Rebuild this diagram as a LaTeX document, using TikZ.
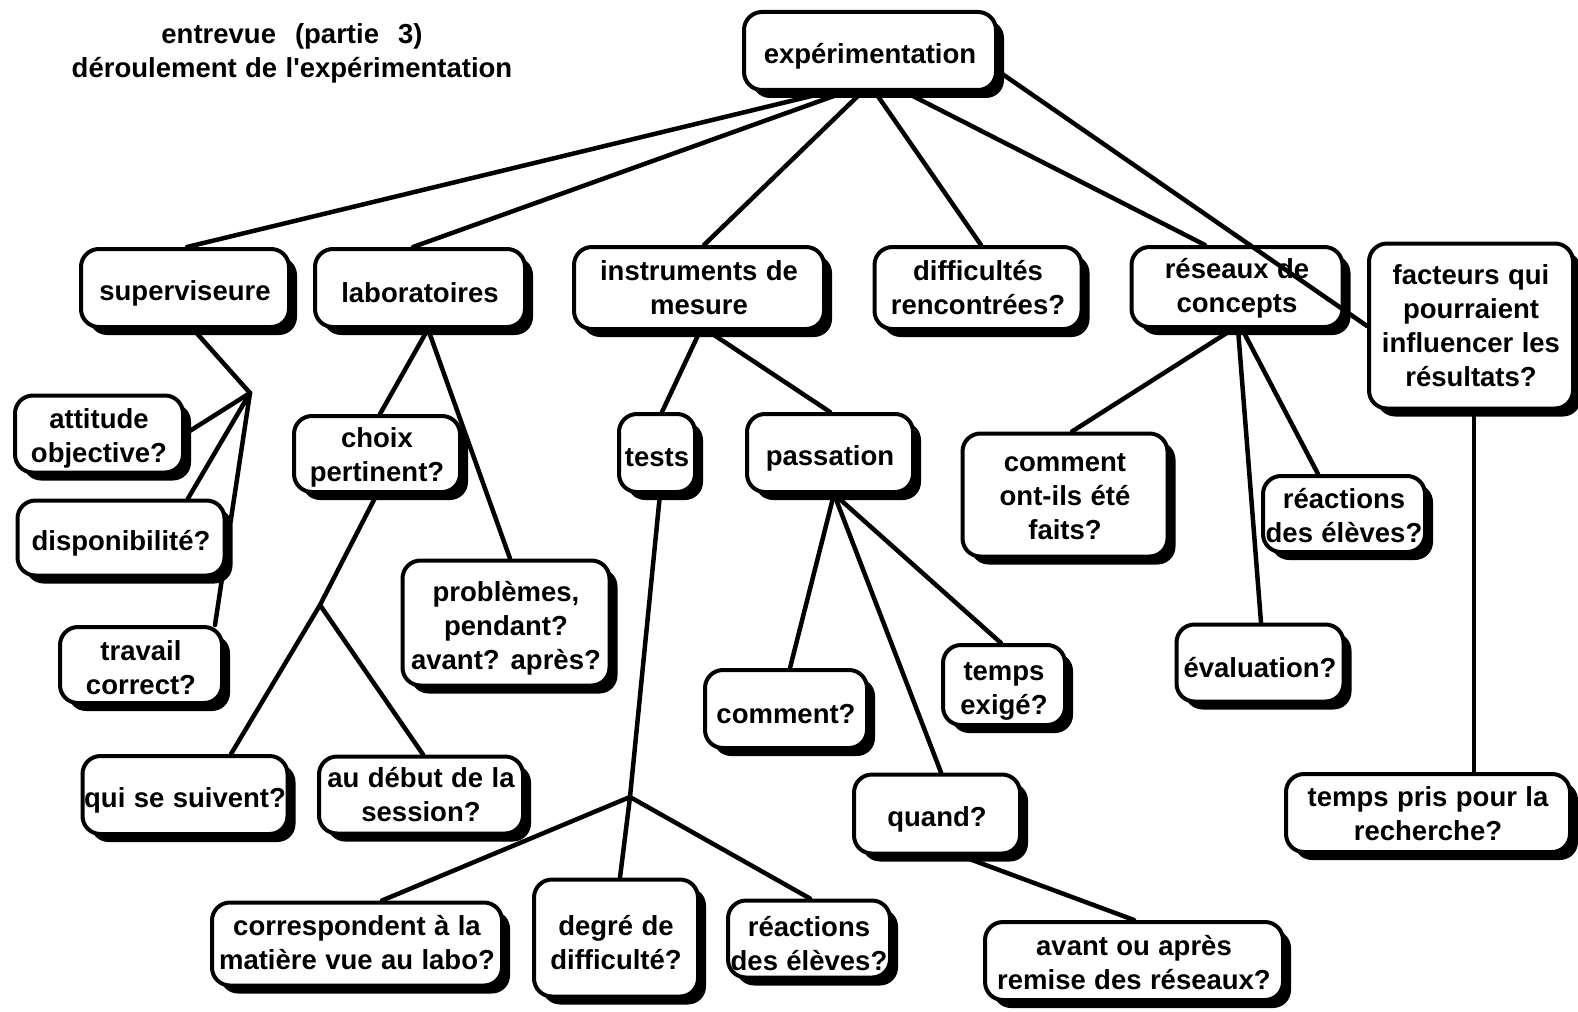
\documentclass[tikz,border=0pt]{standalone}
\usepackage{fontspec}
\setmainfont{Liberation Sans}[WordSpace=1.1]
\usetikzlibrary{shadows}
\pgfdeclarelayer{background}
\pgfsetlayers{background,main}

\begin{document}
\begin{tikzpicture}[x=1pt,y=-1pt,
  box/.style={draw=black, line width=4pt, rounded corners=18pt, fill=white,
    inner sep=0pt,
    drop shadow={shadow xshift=8pt, shadow yshift=-8pt, fill=black, opacity=1}},
  txt/.style={font=\fontsize{27.5}{34}\selectfont\bfseries, align=center,
    inner sep=0pt, yshift=-5pt},
  link/.style={line width=4.5pt, line cap=round},
  heading/.style={font=\fontsize{27.5}{34}\selectfont\bfseries, align=center}]

\useasboundingbox (0,0) rectangle (1578,1011);

% heading
\node[heading] (ttl) at (292,53)
  {entrevue\hspace{19pt}(partie\hspace{19pt}3)\\d\'eroulement de l\textquotesingle exp\'erimentation};

% root
\node[box, minimum width=252pt, minimum height=78pt,
  label={[txt]center:expérimentation}] (exp) at (870,51) {};

% first level
\node[box, minimum width=208pt, minimum height=78pt,
  label={[txt]center:superviseure}] (sup) at (185,288) {};
\node[box, minimum width=210pt, minimum height=78pt,
  label={[txt]center:laboratoires}] (lab) at (420,288) {};
\node[box, minimum width=250pt, minimum height=82pt,
  label={[txt,yshift=5pt]center:{instruments de\\mesure}}] (ins) at (699,288) {};
\node[box, minimum width=207pt, minimum height=82pt,
  label={[txt,yshift=5pt]center:{difficultés\\rencontrées?}}] (dif) at (978,288) {};
\node[box, minimum width=211pt, minimum height=80pt,
  label={[txt,yshift=4pt]center:{réseaux de\\concepts}}] (res) at (1237,287) {};
\node[box, minimum width=204pt, minimum height=165pt,
  label={[txt,yshift=5pt]center:{facteurs qui\\pourraient\\influencer les\\résultats?}}] (fac) at (1471,326) {};

% superviseure branch
\node[box, minimum width=168pt, minimum height=77pt,
  label={[txt,yshift=1pt]center:{attitude\\objective?}}] (att) at (99,434) {};
\node[box, minimum width=207pt, minimum height=75pt,
  label={[txt]center:disponibilité?}] (dis) at (121,538) {};
\node[box, minimum width=162pt, minimum height=76pt,
  label={[txt,yshift=2pt]center:{travail\\correct?}}] (tra) at (141,665) {};

% laboratoires branch
\node[box, minimum width=166pt, minimum height=76pt,
  label={[txt,yshift=2pt]center:{choix\\pertinent?}}] (cho) at (377,454) {};
\node[box, minimum width=207pt, minimum height=125pt,
  label={[txt]center:{problèmes,\\pendant?\\avant? après?}}] (pro) at (506,623) {};
\node[box, minimum width=205pt, minimum height=78pt,
  label={[txt]center:qui se suivent?}] (qui) at (185,795) {};
\node[box, minimum width=204pt, minimum height=77pt,
  label={[txt,yshift=5pt]center:{au début de la\\session?}}] (deb) at (421,795) {};

% instruments branch
\node[box, minimum width=76pt, minimum height=78pt,
  label={[txt]center:tests}] (tes) at (657,453) {};
\node[box, minimum width=166pt, minimum height=78pt,
  label={[txt]center:passation}] (pas) at (830,453) {};
\node[box, minimum width=162pt, minimum height=78pt,
  label={[txt]center:comment?}] (com) at (786,709) {};
\node[box, minimum width=122pt, minimum height=80pt,
  label={[txt,yshift=-1pt]center:{temps\\exigé?}}] (tex) at (1004,685) {};
\node[box, minimum width=166pt, minimum height=79pt,
  label={[txt]center:quand?}] (qua) at (937,814) {};
\node[box, minimum width=290pt, minimum height=83pt,
  label={[txt,yshift=6pt]center:{correspondent à la\\matière vue au labo?}}] (cor) at (357,944) {};
\node[box, minimum width=164pt, minimum height=117pt,
  label={[txt]center:{degré de\\difficulté?}}] (deg) at (616,938) {};
\node[box, minimum width=162pt, minimum height=77pt,
  label={[txt]center:{réactions\\des élèves?}}] (reb) at (809,939) {};
\node[box, minimum width=298pt, minimum height=78pt,
  label={[txt,yshift=3pt]center:{avant ou après\\remise des réseaux?}}] (ava) at (1134,961) {};

% réseaux branch
\node[box, minimum width=205pt, minimum height=123pt,
  label={[txt,yshift=3pt]center:{comment\\ont-ils été\\faits?}}] (coi) at (1065,495) {};
\node[box, minimum width=162pt, minimum height=76pt,
  label={[txt,yshift=3pt]center:{réactions\\des élèves?}}] (rer) at (1344,514) {};
\node[box, minimum width=167pt, minimum height=77pt,
  label={[txt]center:évaluation?}] (eva) at (1260,663) {};

% facteurs branch
\node[box, minimum width=284pt, minimum height=78pt,
  label={[txt,yshift=4pt]center:{temps pris pour la\\recherche?}}] (tpr) at (1428,813) {};

% branching points
\coordinate (j1) at (250,393);
\coordinate (j2) at (320,605);
\coordinate (j3) at (630,797);

\begin{pgfonlayer}{background}
  \draw[link] ([xshift=-42pt]exp.south) -- ([xshift=2pt]sup.north);
  \draw[link] ([xshift=-25pt]exp.south) -- ([xshift=-7pt]lab.north);
  \draw[link] ([xshift=-8pt]exp.south) -- ([xshift=5pt]ins.north);
  \draw[link] ([xshift=5pt]exp.south) -- ([xshift=3pt]dif.north);
  \draw[link] ([xshift=35pt]exp.south) -- ([xshift=-32pt]res.north);

  \draw[link] ([xshift=8pt]sup.south) -- (j1);
  \draw[link] (j1) -- (att.east);
  \draw[link] (j1) -- ([xshift=67pt]dis.north);
  \draw[link] (j1) -- ([xshift=74pt]tra.north);

  \draw[link] ([xshift=8pt]lab.south) -- ([xshift=3pt]cho.north);
  \draw[link] ([xshift=8pt]lab.south) -- ([xshift=4pt]pro.north);
  \draw[link] (cho.south) -- (j2);
  \draw[link] (j2) -- ([xshift=46pt]qui.north);
  \draw[link] (j2) -- ([xshift=2pt]deb.north);

  \draw[link] ([xshift=1pt]ins.south) -- ([xshift=5pt]tes.north);
  \draw[link] ([xshift=9pt]ins.south) -- (pas.north);
  \draw[link] ([xshift=3pt]tes.south) -- (j3);
  \draw[link] (j3) -- ([xshift=4pt]deg.north);
  \draw[link] (j3) -- ([xshift=25pt]cor.north);
  \draw[link] (j3) -- ([xshift=1pt]reb.north);
  \draw[link] ([xshift=4pt]pas.south) -- ([xshift=4pt]com.north);
  \draw[link] ([xshift=4pt]pas.south) -- ([xshift=4pt]qua.north);
  \draw[link] ([xshift=4pt]pas.south) -- ([xshift=-3pt]tex.north);
  \draw[link] ([xshift=23pt]qua.south) -- (ava.north);

  \draw[link] ([xshift=-4pt]res.south) -- ([xshift=7pt]coi.north);
  \draw[link] ([xshift=1pt]res.south) -- ([xshift=1pt]eva.north);
  \draw[link] ([xshift=5pt]res.south) -- ([xshift=-26pt]rer.north);

  \draw[link] ([xshift=3pt]fac.south) -- ([xshift=46pt]tpr.north);
\end{pgfonlayer}

% this connector runs over the réseaux box
\draw[link] ([yshift=-20pt]exp.east) -- (fac.west);

\end{tikzpicture}
\end{document}
